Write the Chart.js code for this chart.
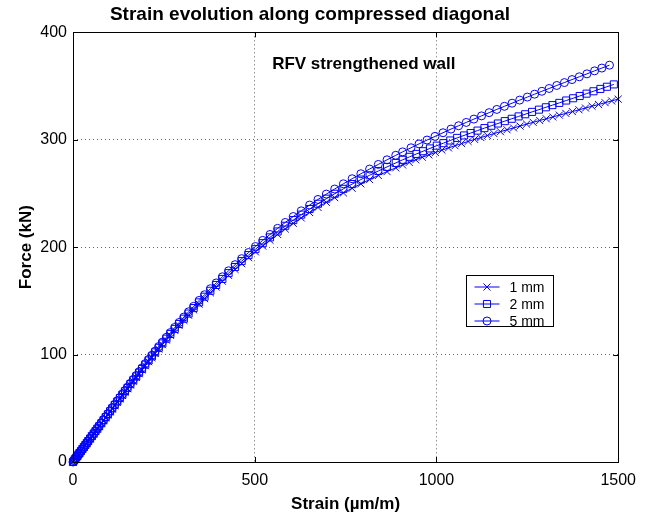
<!DOCTYPE html>
<html>
<head>
<meta charset="utf-8">
<script src="https://cdn.jsdelivr.net/npm/chart.js@4.4.1/dist/chart.umd.min.js"></script>
<style>
  html, body { margin: 0; padding: 0; background: #ffffff; }
  #wrap { width: 645px; height: 514px; position: relative; }
</style>
</head>
<body>
<div id="wrap"><canvas id="c"></canvas></div>
<script>
// Strain (µm/m) and force (kN) samples for each laminate thickness
const strain1mm = [0,3,6,9,12,15,18,22,26,30,34,38,42,47,52,57,62,67,72,78,84,90,96,102,108,115,122,129,136,143,150,158,166,174,182,190,199,208,217,226,236,246,257,268,280,292,305,318,332,347,362,378,394,411,428,446,464,483,502,522,542,563,584,606,628,651,674,697,720,744,768,792,816,840,864,888,907,925,943,961,979,997,1015,1033,1051,1069,1087,1105,1122,1140,1158,1176,1194,1212,1230,1248,1266,1284,1302,1320,1338,1356,1374,1392,1410,1428,1446,1464,1482,1500];
const force1mm = [0,1.4,2.8,4.1,5.5,6.9,8.3,10.1,12.0,13.8,15.6,17.4,19.3,21.6,23.9,26.1,28.4,30.7,33.0,35.7,38.5,41.2,43.9,46.7,49.4,52.5,55.7,58.8,62.0,65.1,68.2,71.7,75.2,78.7,82.2,85.7,89.6,93.4,97.2,101.0,105.1,109.2,113.5,117.9,122.5,127.0,131.8,136.6,141.6,146.9,152.1,157.5,162.8,168.3,173.7,179.2,184.6,190.2,195.6,201.0,206.4,211.8,216.9,222.2,227.2,232.2,237.0,241.7,246.1,250.5,254.8,258.9,262.9,266.7,270.3,273.8,276.5,278.9,281.3,283.7,285.9,288.1,290.3,292.4,294.4,296.4,298.4,300.3,302.0,303.9,305.7,307.5,309.3,311.0,312.7,314.5,316.2,317.9,319.5,321.2,322.9,324.5,326.2,327.9,329.5,331.2,332.8,334.5,336.1,337.8];

const strain2mm = [0,3,6,9,12,15,18,22,26,30,34,38,42,47,52,57,62,67,72,78,84,90,96,102,108,115,122,129,136,143,150,158,166,174,182,190,199,208,217,226,236,246,257,268,280,292,305,318,332,347,362,378,394,411,428,446,464,483,502,522,542,563,584,606,628,651,674,697,720,744,768,792,816,840,864,888,907,926,945,963,982,1001,1019,1038,1057,1076,1094,1113,1132,1151,1169,1188,1207,1226,1244,1263,1282,1301,1319,1338,1357,1376,1394,1413,1432,1451,1469,1488];
const force2mm = [0,1.4,2.8,4.2,5.6,7.0,8.4,10.2,12.1,13.9,15.8,17.6,19.5,21.8,24.1,26.4,28.7,31.0,33.3,36.1,38.9,41.7,44.4,47.2,49.9,53.1,56.3,59.5,62.7,65.8,68.9,72.5,76.1,79.6,83.1,86.6,90.6,94.5,98.3,102.1,106.3,110.4,114.8,119.2,123.9,128.5,133.4,138.2,143.3,148.6,153.9,159.4,164.8,170.4,175.8,181.5,187.0,192.6,198.1,203.7,209.1,214.6,219.9,225.2,230.3,235.5,240.4,245.1,249.7,254.3,258.7,262.9,266.9,270.9,274.7,278.4,281.3,284.1,286.8,289.3,291.9,294.5,296.8,299.3,301.7,304.0,306.2,308.5,310.8,313.0,315.1,317.3,319.5,321.7,323.7,325.9,328.0,330.2,332.2,334.3,336.5,338.6,340.7,342.9,345.1,347.3,349.3,351.5];

const strain5mm = [0,3,6,9,12,15,18,22,26,30,34,38,42,47,52,57,62,67,72,78,84,90,96,102,108,115,122,129,136,143,150,158,166,174,182,190,199,208,217,226,236,246,257,268,280,292,305,318,332,347,362,378,394,411,428,446,464,483,502,522,542,563,584,606,628,651,674,697,720,744,768,792,816,840,864,888,907,930,952,974,996,1018,1040,1061,1082,1103,1124,1145,1166,1187,1208,1229,1250,1270,1290,1310,1331,1352,1373,1393,1414,1435,1455,1476];
const force5mm = [0,1.4,2.8,4.2,5.6,7.0,8.5,10.3,12.2,14.1,16.0,17.8,19.7,22.0,24.4,26.7,29.0,31.4,33.7,36.5,39.3,42.1,44.9,47.7,50.5,53.7,56.9,60.1,63.3,66.5,69.7,73.3,76.9,80.5,84.0,87.6,91.6,95.5,99.4,103.2,107.5,111.6,116.1,120.5,125.3,129.9,134.9,139.8,144.9,150.4,155.7,161.3,166.7,172.4,178.0,183.7,189.3,195.0,200.6,206.3,211.8,217.5,223.0,228.5,233.8,239.2,244.4,249.4,254.1,259.0,263.7,268.3,272.7,277.0,281.3,285.5,288.7,292.5,296.1,299.7,303.1,306.5,309.9,313.0,316.1,319.2,322.2,325.2,328.2,331.1,334.0,336.9,339.7,342.4,345.1,347.7,350.5,353.2,356.0,358.6,361.3,364.1,366.7,369.4];

const seriesNames = ['1 mm', '2 mm', '5 mm'];
const xTickValues = [0, 500, 1000, 1500];
const yTickValues = [0, 100, 200, 300, 400];

const FONT = "'Liberation Sans', Arial, Helvetica, sans-serif";
const BLUE = '#0000ff';

function toPoints(xs, ys) {
  return xs.map((x, i) => ({ x: x, y: ys[i] }));
}

// hollow marker drawing used by the legend
function drawMarker(ctx, style, x, y, r) {
  ctx.beginPath();
  if (style === 'crossRot') {
    const d = r * Math.SQRT1_2;
    ctx.moveTo(x - d, y - d); ctx.lineTo(x + d, y + d);
    ctx.moveTo(x - d, y + d); ctx.lineTo(x + d, y - d);
  } else if (style === 'rect') {
    const s = r * Math.SQRT1_2;
    ctx.rect(x - s, y - s, 2 * s, 2 * s);
  } else {
    ctx.arc(x, y, r, 0, Math.PI * 2);
  }
  ctx.stroke();
}

const markerStyles = ['crossRot', 'rect', 'circle'];
const markerRadius = [5, 5, 4];

// axes box, inward ticks, annotation text and legend
const framePlugin = {
  id: 'frame',
  afterDatasetsDraw(chart) {
    const { ctx, chartArea: a, scales } = chart;
    const xs = scales.x, ys = scales.y;
    ctx.save();
    ctx.strokeStyle = '#000';
    ctx.lineWidth = 1;
    ctx.strokeRect(Math.round(a.left) + 0.5, Math.round(a.top) + 0.5,
                   Math.round(a.right - a.left), Math.round(a.bottom - a.top));
    const tl = 5;
    ctx.beginPath();
    xTickValues.forEach(v => {
      const px = Math.round(xs.getPixelForValue(v)) + 0.5;
      ctx.moveTo(px, a.bottom); ctx.lineTo(px, a.bottom - tl);
      ctx.moveTo(px, a.top); ctx.lineTo(px, a.top + tl);
    });
    yTickValues.forEach(v => {
      const py = Math.round(ys.getPixelForValue(v)) + 0.5;
      ctx.moveTo(a.left, py); ctx.lineTo(a.left + tl, py);
      ctx.moveTo(a.right, py); ctx.lineTo(a.right - tl, py);
    });
    ctx.stroke();

    // annotation
    ctx.fillStyle = '#000';
    ctx.font = 'bold 17px ' + FONT;
    ctx.textAlign = 'center';
    ctx.textBaseline = 'middle';
    ctx.fillText('RFV strengthened wall', xs.getPixelForValue(800), ys.getPixelForValue(370));

    // legend
    const lx = Math.round(xs.getPixelForValue(1081)) + 0.5;
    const ly = Math.round(ys.getPixelForValue(174)) + 0.5;
    const lw = 87, lh = 51;
    ctx.fillStyle = '#fff';
    ctx.fillRect(lx, ly, lw, lh);
    ctx.strokeStyle = '#000';
    ctx.strokeRect(lx, ly, lw, lh);
    ctx.font = '14px ' + FONT;
    ctx.textAlign = 'left';
    ctx.textBaseline = 'middle';
    seriesNames.forEach((name, i) => {
      const ry = ly + 11.5 + i * 17;
      ctx.strokeStyle = BLUE;
      ctx.lineWidth = 1;
      ctx.beginPath();
      ctx.moveTo(lx + 8, ry); ctx.lineTo(lx + 33, ry);
      ctx.stroke();
      drawMarker(ctx, markerStyles[i], lx + 20.5, ry, markerRadius[i]);
      ctx.fillStyle = '#000';
      ctx.fillText(name, lx + 43, ry + 1);
    });
    ctx.restore();
  }
};

const seriesData = [
  toPoints(strain1mm, force1mm),
  toPoints(strain2mm, force2mm),
  toPoints(strain5mm, force5mm)
];

const datasets = seriesData.map((pts, i) => ({
  label: seriesNames[i],
  data: pts,
  showLine: true,
  borderColor: BLUE,
  borderWidth: 1,
  pointStyle: markerStyles[i],
  pointRadius: markerRadius[i],
  pointBorderWidth: 1,
  pointBorderColor: BLUE,
  pointBackgroundColor: 'rgba(0,0,0,0)',
  fill: false,
  tension: 0,
  clip: false,
  order: 3 - i
}));

new Chart(document.getElementById('c'), {
  type: 'scatter',
  data: { datasets },
  options: {
    responsive: true,
    maintainAspectRatio: false,
    animation: false,
    events: [],
    layout: { padding: { left: 0, right: 25, top: 0, bottom: 0 } },
    plugins: {
      legend: { display: false },
      tooltip: { enabled: false },
      title: {
        display: true,
        text: 'Strain evolution along compressed diagonal',
        color: '#000',
        font: { family: FONT, size: 19, weight: 'bold' },
        padding: { top: 3, bottom: 6.5 }
      }
    },
    scales: {
      x: {
        type: 'linear',
        min: 0, max: 1500,
        afterBuildTicks: s => { s.ticks = xTickValues.map(v => ({ value: v })); },
        ticks: { color: '#000', font: { family: FONT, size: 16 }, padding: 9, maxRotation: 0,
                 callback: v => String(v) },
        grid: { color: '#666', lineWidth: 1, drawTicks: false },
        border: { display: false, dash: [1, 3] },
        title: { display: true, text: 'Strain (µm/m)', color: '#000',
                 font: { family: FONT, size: 17, weight: 'bold', lineHeight: 1 }, padding: { top: 0, bottom: 1 } },
        afterFit: s => { s.height = 52; }
      },
      y: {
        type: 'linear',
        min: 0, max: 400,
        afterBuildTicks: s => { s.ticks = yTickValues.map(v => ({ value: v })); },
        ticks: { color: '#000', font: { family: FONT, size: 16 }, padding: 6,
                 callback: v => String(v) },
        grid: { color: '#666', lineWidth: 1, drawTicks: false },
        border: { display: false, dash: [1, 3] },
        title: { display: true, text: 'Force (kN)', color: '#000',
                 font: { family: FONT, size: 17, weight: 'bold' }, padding: { top: 16, bottom: 0 } },
        afterFit: s => { s.width = 73; }
      }
    }
  },
  plugins: [framePlugin]
});
</script>
</body>
</html>
